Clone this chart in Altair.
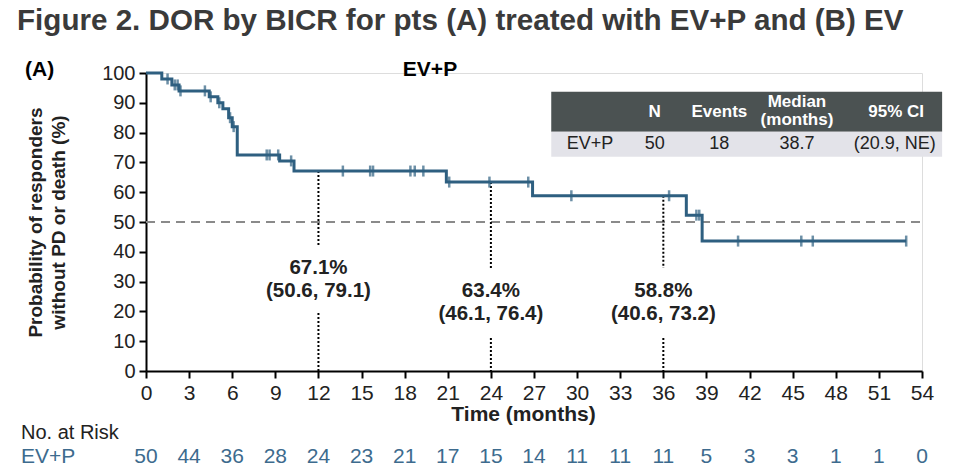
import altair as alt
import pandas as pd

# ---------------- data ----------------
step_time = [0, 1.1, 1.8, 2.3, 4.4, 5.0, 5.35, 5.75, 6.0, 6.35, 9.3, 10.3, 20.9, 26.9, 37.6, 38.7, 52.9]
step_surv = [100, 98, 96, 94, 92, 90, 88, 85, 82, 72.5, 70.5, 67.1, 63.4, 58.8, 52.3, 43.6, 43.6]

censor_time = [1.5, 2.0, 2.2, 2.4, 4.1, 4.5, 5.1, 5.85, 6.1, 8.4, 8.6, 9.2, 10.1,
               13.7, 15.6, 15.8, 18.4, 18.7, 19.3, 21.1, 23.9, 26.6, 29.6, 36.4,
               38.3, 38.5, 41.2, 45.6, 46.4, 52.9]

landmark_time = [12, 24, 36]
landmark_surv = [67.1, 63.4, 58.8]
landmark_pct = ["67.1%", "63.4%", "58.8%"]
landmark_ci = ["(50.6, 79.1)", "(46.1, 76.4)", "(40.6, 73.2)"]

table_header = ["N", "Events", "Median", "(months)", "95% CI"]
table_row = ["EV+P", "50", "18", "38.7", "(20.9, NE)"]

risk_time = [0, 3, 6, 9, 12, 15, 18, 21, 24, 27, 30, 33, 36, 39, 42, 45, 48, 51, 54]
risk_count = [50, 44, 36, 28, 24, 23, 21, 17, 15, 14, 11, 11, 11, 5, 3, 3, 1, 1, 0]

x_ticks = list(range(0, 55, 3))
y_ticks = list(range(0, 101, 10))

# ---------------- layout / style ----------------
FONT = "Liberation Sans, Arial, sans-serif"
NARROW = "Liberation Sans Narrow, Arial Narrow, Liberation Sans, sans-serif"
BLUE = "#2e5f80"
RISKBLUE = "#3d6b8e"
TEXT = "#222222"

# label positions (data units) for the landmark annotations
upper_end = [42.3, 34.6, 34.6]
lower_start = [19.5, 11.1, 11.1]
pct_y = [34.6, 26.8, 26.8]
ci_y = [26.8, 19.1, 19.1]

xs = alt.Scale(domain=[0, 54], nice=False, zero=False)
ys = alt.Scale(domain=[0, 100], nice=False, zero=False)

XAXIS = alt.Axis(
    values=x_ticks, title="Time (months)", grid=False,
    domainColor="black", domainWidth=2, tickColor="black", tickWidth=2, tickSize=7,
    labelFont=NARROW, labelFontSize=21, labelColor=TEXT, labelPadding=4,
    labelFlush=False, labelOverlap=False,
    titleFont=NARROW, titleFontSize=21, titleFontWeight="bold", titleColor=TEXT,
    titleX=377, titleY=49, titleBaseline="alphabetic", titleAlign="center")
YAXIS = alt.Axis(
    values=y_ticks, title=["Probability of responders", "without PD or death (%)"],
    grid=False, domainColor="black", domainWidth=2, tickColor="black", tickWidth=2,
    tickSize=7, labelFont=FONT, labelFontSize=20, labelColor=TEXT, labelPadding=4,
    labelFlush=False, labelOverlap=False,
    titleFont=FONT, titleFontSize=19, titleFontWeight="bold", titleColor=TEXT,
    titleX=-101, titleY=149, titleAngle=-90, titleAlign="center",
    titleBaseline="bottom", titleLineHeight=23)


def X(f):
    return alt.X(f, scale=xs, axis=XAXIS)


def Y(f):
    return alt.Y(f, scale=ys, axis=YAXIS)


def surv_at(t):
    v = step_surv[0]
    for st, sv in zip(step_time, step_surv):
        if st <= t:
            v = sv
    return v


curve_df = pd.DataFrame({"x": step_time, "y": step_surv})
cens_df = pd.DataFrame({"x": censor_time, "y": [surv_at(t) for t in censor_time]})

curve = alt.Chart(curve_df).mark_line(
    interpolate="step-after", color=BLUE, strokeWidth=3
).encode(x=X("x:Q"), y=Y("y:Q"))

cens = alt.Chart(cens_df).mark_tick(
    orient="vertical", color=BLUE, size=11, thickness=2.5
).encode(x=X("x:Q"), y=Y("y:Q"))

ref50 = alt.Chart(pd.DataFrame({"x": [0], "x2": [54], "y": [50]})).mark_rule(
    color="#8a8a8a", strokeWidth=2, strokeDash=[9, 6]
).encode(x=X("x:Q"), x2="x2:Q", y=Y("y:Q"))

lm_df = pd.DataFrame({
    "x": landmark_time, "y": landmark_surv, "up": upper_end, "lo": lower_start,
    "zero": [0, 0, 0], "pct": landmark_pct, "ci": landmark_ci,
    "py": pct_y, "cy": ci_y,
})
dot_up = alt.Chart(lm_df).mark_rule(color="black", strokeWidth=2, strokeDash=[2, 2]).encode(
    x=X("x:Q"), y=Y("y:Q"), y2="up:Q")
dot_lo = alt.Chart(lm_df).mark_rule(color="black", strokeWidth=2, strokeDash=[2, 2]).encode(
    x=X("x:Q"), y=Y("lo:Q"), y2="zero:Q")
pct_txt = alt.Chart(lm_df).mark_text(
    font=FONT, fontSize=20.5, fontWeight="bold", color=TEXT, baseline="middle", align="center"
).encode(x=X("x:Q"), y=Y("py:Q"), text="pct:N")
ci_txt = alt.Chart(lm_df).mark_text(
    font=FONT, fontSize=20.5, fontWeight="bold", color=TEXT, baseline="middle", align="center"
).encode(x=X("x:Q"), y=Y("cy:Q"), text="ci:N")

# summary table (positions in data units)
hdr_rect = alt.Chart(pd.DataFrame({"x": [28.2], "x2": [55.4], "y": [93.7], "y2": [80.3]})).mark_rect(
    color="#4b5252").encode(x=X("x:Q"), x2="x2:Q", y=Y("y:Q"), y2="y2:Q")
row_rect = alt.Chart(pd.DataFrame({"x": [28.2], "x2": [55.4], "y": [80.3], "y2": [71.9]})).mark_rect(
    color="#e3e3e9").encode(x=X("x:Q"), x2="x2:Q", y=Y("y:Q"), y2="y2:Q")

hdr_df = pd.DataFrame({
    "x": [35.4, 39.9, 45.3, 45.3, 52.2],
    "y": [87.0, 87.0, 90.3, 84.1, 87.0],
    "t": table_header,
})
hdr_txt = alt.Chart(hdr_df).mark_text(
    font=FONT, fontSize=17, fontWeight="bold", color="white", baseline="middle", align="center"
).encode(x=X("x:Q"), y=Y("y:Q"), text="t:N")
row_df = pd.DataFrame({"x": [30.9, 35.4, 39.9, 45.3, 52.1], "y": [76.3] * 5, "t": table_row})
row_txt = alt.Chart(row_df).mark_text(
    font=FONT, fontSize=18, color=TEXT, baseline="middle", align="center"
).encode(x=X("x:Q"), y=Y("y:Q"), text="t:N")

# panel labels
arm_lbl = alt.Chart(pd.DataFrame({"t": ["EV+P"]})).mark_text(
    font=FONT, fontSize=21, fontWeight="bold", color="black", baseline="middle", align="center"
).encode(x=alt.value(284), y=alt.value(-3), text="t:N")
a_lbl = alt.Chart(pd.DataFrame({"t": ["(A)"]})).mark_text(
    font=FONT, fontSize=21, fontWeight="bold", color="black", baseline="middle", align="left"
).encode(x=alt.value(-121), y=alt.value(-3), text="t:N")

# number at risk
risk_df = pd.DataFrame({"x": risk_time, "n": [str(v) for v in risk_count]})
risk_txt = alt.Chart(risk_df).mark_text(
    font=NARROW, fontSize=21, color=RISKBLUE, baseline="middle", align="center"
).encode(x=X("x:Q"), y=alt.value(384), text="n:N")
risk_hdr = alt.Chart(pd.DataFrame({"t": ["No. at Risk"]})).mark_text(
    font=NARROW, fontSize=20, color=TEXT, baseline="middle", align="left"
).encode(x=alt.value(-125), y=alt.value(360), text="t:N")
risk_arm = alt.Chart(pd.DataFrame({"t": ["EV+P"]})).mark_text(
    font=NARROW, fontSize=21, color=RISKBLUE, baseline="middle", align="left"
).encode(x=alt.value(-125), y=alt.value(384), text="t:N")

chart = alt.layer(
    ref50, dot_up, dot_lo, curve, cens, pct_txt, ci_txt,
    hdr_rect, row_rect, hdr_txt, row_txt, arm_lbl, a_lbl,
    risk_txt, risk_hdr, risk_arm,
).properties(
    width=776, height=298,
    padding={"left": 146, "top": 73, "right": 41, "bottom": 104},
    autosize=alt.AutoSizeParams(type="none"),
    title=alt.TitleParams(
        text="Figure 2. DOR by BICR for pts (A) treated with EV+P and (B) EV",
        anchor="start", frame="group", font=FONT, fontSize=29.6, fontWeight="bold",
        color="#3a3a3a", dx=-129, dy=31, offset=30, baseline="alphabetic",
    ),
).configure_view(stroke=None).configure(background="white")

chart.save("out.html", embed_options={"renderer": "svg", "actions": False})
